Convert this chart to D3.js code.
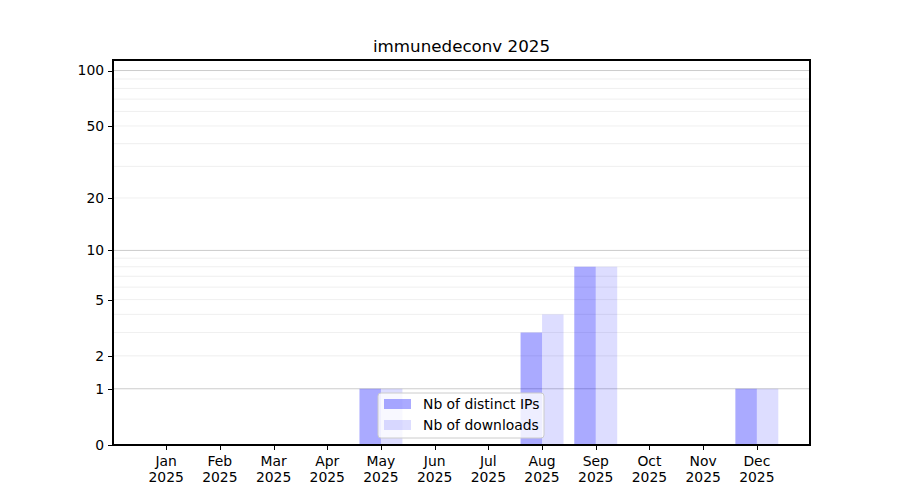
<!DOCTYPE html>
<html>
<head>
<meta charset="utf-8">
<script src="https://cdn.jsdelivr.net/npm/d3@7"></script>
<style>
  body { margin: 0; background: #fff; }
  text { font-family: "DejaVu Sans", sans-serif; fill: #000; }
</style>
</head>
<body>
<svg id="chart" width="900" height="500"></svg>
<script>
(function(){
  var months = ['Jan','Feb','Mar','Apr','May','Jun','Jul','Aug','Sep','Oct','Nov','Dec']
  var year = '2025'
  var distinctIPs = [0, 0, 0, 0, 1, 0, 0, 3, 8, 0, 0, 1]
  var downloads   = [0, 0, 0, 0, 1, 0, 0, 4, 8, 0, 0, 1]
  var yTicks = [0, 1, 2, 5, 10, 20, 50, 100]
  var majorGrid = [1, 10, 100]
  var minorGrid = [2, 3, 4, 5, 6, 7, 8, 9, 20, 30, 40, 50, 60, 70, 80, 90]

  var svg = d3.select('#chart')
  var left = 113, right = 810, top = 60, bottom = 445

  var xScale = d3.scaleLinear()
    .domain([0.01, 12.99])
    .range([left, right])

  var yScale = d3.scaleSymlog()
    .constant(1)
    .domain([0, 114])
    .range([bottom, top])

  var barW = xScale(1.4) - xScale(1)

  // grid
  svg.append('g').selectAll('line')
    .data(minorGrid).enter().append('line')
    .attr('x1', left).attr('x2', right)
    .attr('y1', d => yScale(d)).attr('y2', d => yScale(d))
    .attr('stroke', '#ebebeb').attr('stroke-width', 0.8)

  svg.append('g').selectAll('line')
    .data(majorGrid).enter().append('line')
    .attr('x1', left).attr('x2', right)
    .attr('y1', d => yScale(d)).attr('y2', d => yScale(d))
    .attr('stroke', '#cccccc').attr('stroke-width', 1)

  // bars
  svg.append('g').selectAll('rect')
    .data(distinctIPs).enter().append('rect')
    .attr('x', (d, i) => xScale(i + 1) - barW)
    .attr('width', barW)
    .attr('y', d => yScale(d))
    .attr('height', d => bottom - yScale(d))
    .attr('fill', 'blue').attr('fill-opacity', 0.333)

  svg.append('g').selectAll('rect')
    .data(downloads).enter().append('rect')
    .attr('x', (d, i) => xScale(i + 1))
    .attr('width', barW)
    .attr('y', d => yScale(d))
    .attr('height', d => bottom - yScale(d))
    .attr('fill', 'blue').attr('fill-opacity', 0.133)

  // axes
  var yAxis = svg.append('g')
    .attr('transform', 'translate(' + left + ',0)')
    .call(d3.axisLeft(yScale).tickValues(yTicks).tickFormat(d3.format('d'))
      .tickSize(4.9).tickPadding(4))
  yAxis.select('.domain').remove()

  var xAxis = svg.append('g')
    .attr('transform', 'translate(0,' + bottom + ')')
    .call(d3.axisBottom(xScale).tickValues(d3.range(1, 13)).tickFormat('')
      .tickSize(4.9))
  xAxis.select('.domain').remove()

  svg.selectAll('.tick line').attr('stroke', '#000').attr('stroke-width', 1)
    .attr('shape-rendering', 'crispEdges')
  yAxis.selectAll('text').attr('font-size', '13.9px')

  var xl = svg.append('g').selectAll('text')
    .data(months).enter().append('text')
    .attr('text-anchor', 'middle')
    .attr('font-size', '13.9px')
    .attr('x', (d, i) => xScale(i + 1))
  xl.append('tspan').attr('x', (d, i) => xScale(i + 1)).attr('y', 466).text(d => d)
  xl.append('tspan').attr('x', (d, i) => xScale(i + 1)).attr('y', 482).text(year)

  // frame
  svg.append('rect')
    .attr('x', left).attr('y', top)
    .attr('width', right - left).attr('height', bottom - top)
    .attr('fill', 'none').attr('stroke', '#000').attr('stroke-width', 1.1)
    .attr('shape-rendering', 'crispEdges')

  // title
  svg.append('text')
    .attr('x', (left + right) / 2).attr('y', 52)
    .attr('text-anchor', 'middle')
    .attr('font-size', '16.7px')
    .text('immunedeconv ' + year)

  // legend
  var legend = svg.append('g').attr('transform', 'translate(378,393)')
  legend.append('rect')
    .attr('width', 166).attr('height', 45).attr('rx', 3)
    .attr('fill', '#fff').attr('fill-opacity', 0.8)
    .attr('stroke', '#cccccc').attr('stroke-width', 1)
  var entries = [
    {label: 'Nb of distinct IPs', op: 0.333},
    {label: 'Nb of downloads', op: 0.133}
  ]
  entries.forEach(function(e, i) {
    legend.append('rect')
      .attr('x', 6).attr('y', 6 + i * 21)
      .attr('width', 27).attr('height', 10)
      .attr('fill', 'blue').attr('fill-opacity', e.op)
    legend.append('text')
      .attr('x', 45).attr('y', 16 + i * 21)
      .attr('font-size', '13.9px')
      .text(e.label)
  })
})()
</script>
</body>
</html>
